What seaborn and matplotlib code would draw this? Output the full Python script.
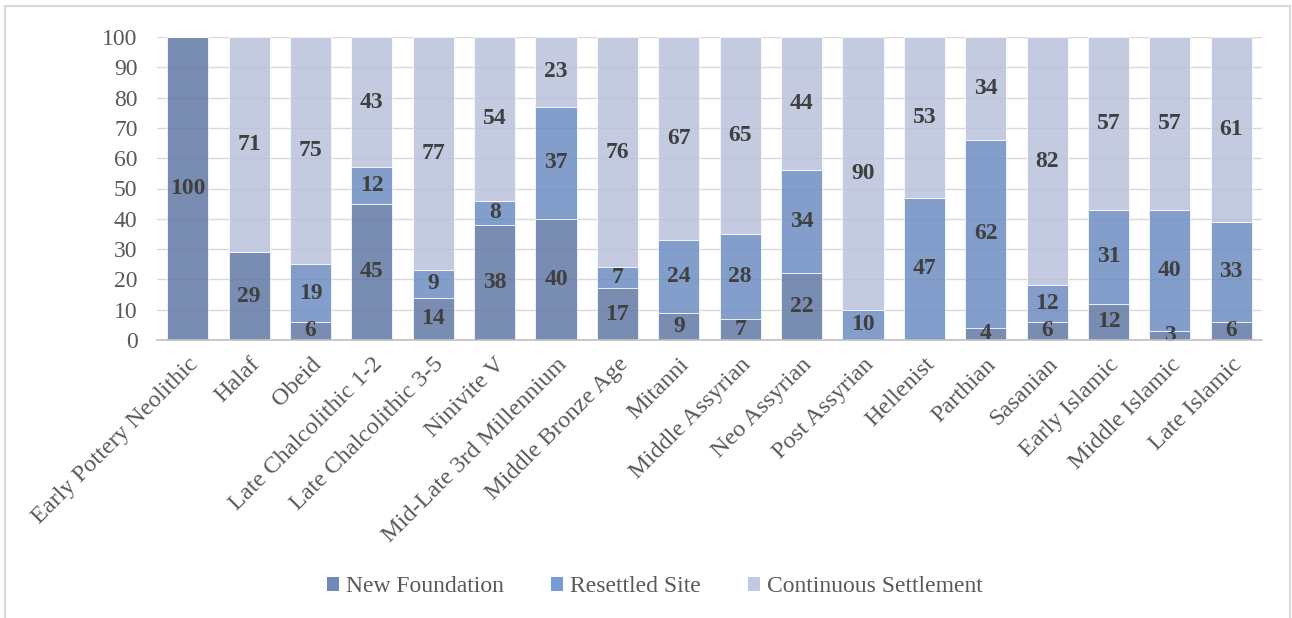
import matplotlib
matplotlib.use("Agg")
import matplotlib.pyplot as plt
import seaborn as sns
import numpy as np
from matplotlib.patches import Rectangle, Patch

periods = [
    "Early Pottery Neolithic", "Halaf", "Obeid", "Late Chalcolithic 1-2",
    "Late Chalcolithic 3-5", "Ninivite V", "Mid-Late 3rd Millennium",
    "Middle Bronze Age", "Mitanni", "Middle Assyrian", "Neo Assyrian",
    "Post Assyrian", "Hellenist", "Parthian", "Sasanian", "Early Islamic",
    "Middle Islamic", "Late Islamic",
]
new_foundation = [100, 29, 6, 45, 14, 38, 40, 17, 9, 7, 22, 0, 0, 4, 6, 12, 3, 6]
resettled_site = [0, 0, 19, 12, 9, 8, 37, 7, 24, 28, 34, 10, 47, 62, 12, 31, 40, 33]
continuous_settlement = [0, 71, 75, 43, 77, 54, 23, 76, 67, 65, 44, 90, 53, 34, 82, 57, 57, 61]

series_names = ["New Foundation", "Resettled Site", "Continuous Settlement"]
series_values = [new_foundation, resettled_site, continuous_settlement]
series_colors = ["#5774b0", "#5f8acf", "#b5bfe0"]

sns.set_style("white")
plt.rcParams["font.family"] = ["Liberation Serif", "DejaVu Serif"]

fig = plt.figure(figsize=(12.92, 6.18), dpi=100)
ax = fig.add_axes([157 / 1292, 1 - 340 / 618, (1262 - 157) / 1292, (340 - 37) / 618])

bottom = np.zeros(len(periods))
for name, vals, col in zip(series_names, series_values, series_colors):
    vals = np.array(vals, dtype=float)
    sns.barplot(x=periods, y=vals, bottom=bottom, color=col, width=0.67,
                alpha=0.85, edgecolor="white", linewidth=0.6, ax=ax, zorder=2)
    for i, v in enumerate(vals):
        if v > 0:
            ax.text(i, bottom[i] + v / 2, f"{int(v)}", ha="center", va="center",
                    fontsize=17, fontweight="bold", color="#404040", zorder=4)
    bottom = bottom + vals

ax.set_ylim(0, 100)
ax.set_xlim(-0.5, len(periods) - 0.5)
ax.set_yticks(range(0, 101, 10))
ax.yaxis.grid(True, color="#d9d9d9", linewidth=1, zorder=0)
ax.set_axisbelow(True)
for s in ["top", "right", "left"]:
    ax.spines[s].set_visible(False)
ax.spines["bottom"].set_color("#bfbfbf")
ax.spines["bottom"].set_linewidth(1.2)
ax.spines["bottom"].set_zorder(5)
ax.tick_params(axis="both", length=0, labelcolor="#595959")
ax.tick_params(axis="y", pad=14, labelsize=17)
ax.tick_params(axis="x", pad=10, labelsize=17.5)
ax.set_xticks(range(len(periods)))
ax.set_xticklabels(periods, rotation=45, ha="right", rotation_mode="anchor")
ax.set_xlabel("")
ax.set_ylabel("")

handles = [Patch(facecolor=c, alpha=0.85, edgecolor="none") for c in series_colors]
leg = fig.legend(handles, series_names, loc="center", bbox_to_anchor=(655 / 1292, 1 - 587 / 618),
                 ncol=3, frameon=False, fontsize=17, handlelength=0.5, handleheight=0.5,
                 handletextpad=0.3, columnspacing=2.0, labelcolor="#595959")

fig.patches.append(Rectangle((5 / 1292, -0.05), 1285 / 1292, 1.05 - 6 / 618,
                             transform=fig.transFigure, fill=False,
                             edgecolor="#d9d9d9", linewidth=1.5))

fig.savefig("out.png", dpi=100)
